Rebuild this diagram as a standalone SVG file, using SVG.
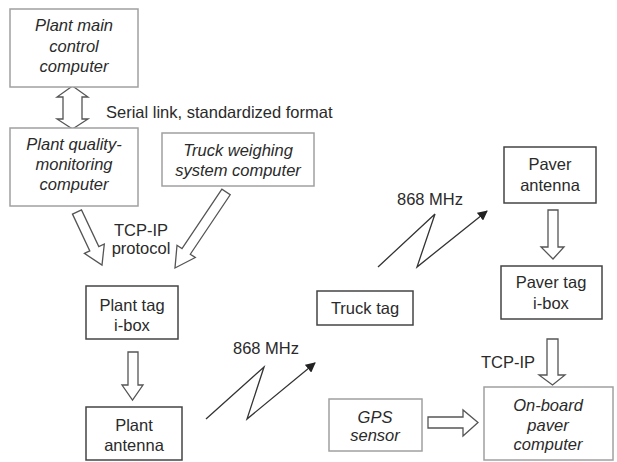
<svg xmlns="http://www.w3.org/2000/svg" width="617" height="462" viewBox="0 0 617 462">
<style>
.t{font-family:"Liberation Sans",Arial,sans-serif;font-size:16.5px;fill:#2a2a2a;text-anchor:middle}
.i{font-style:italic}
.g{fill:#fff;stroke:#a0a0a0;stroke-width:1.5}
.k{fill:#fff;stroke:#444;stroke-width:1.5}
.ha{fill:#fff;stroke:#555;stroke-width:1.3;stroke-linejoin:miter}
.z{fill:none;stroke:#333;stroke-width:1.3}
</style>
<defs>
<marker id="ah" viewBox="0 0 10 10" refX="9" refY="5" markerWidth="10" markerHeight="10" markerUnits="userSpaceOnUse" orient="auto">
<path d="M0,0 L10,5 L0,10 z" fill="#222"/>
</marker>
</defs>
<rect width="617" height="462" fill="#fff"/>
<g id="connectors">
<polygon class="ha" points="72.5,86 88,97 82,97 82,119 88,119 72.5,129 57,119 63,119 63,97 57,97"/>
<polygon class="ha" points="72.5,214.1 89.8,250.9 84.4,253.4 102,265 104.3,244 98.8,246.6 81.5,209.9"/>
<polygon class="ha" points="221.9,189.2 182,248.6 177,245.3 175,268 195.3,257.5 190.3,254.2 230.2,194.8"/>
<polygon class="ha" points="128,352 138,352 138,385 143,385 132.5,400 122,385 128,385"/>
<polyline class="z" points="206,419 264,367 247,419 315,363" marker-end="url(#ah)"/>
<polyline class="z" points="378,267 435,214 417,267 487,211" marker-end="url(#ah)"/>
<polygon class="ha" points="548,210 558,210 558,247 564,247 553,259 541,247 548,247"/>
<polygon class="ha" points="547,339 558,339 558,375 565,375 552.5,385 539,375 547,375"/>
<polygon class="ha" points="428,417 463,417 463,410 478,422.5 463,436 463,428 428,428"/>
<text class="t" x="106" y="118" style="text-anchor:start">Serial link, standardized format</text>
<text class="t" x="141" y="236">TCP-IP</text>
<text class="t" x="141" y="254">protocol</text>
<text class="t" x="266" y="354">868 MHz</text>
<text class="t" x="430" y="205">868 MHz</text>
<text class="t" x="508" y="368">TCP-IP</text>
</g>
<g id="plant-main">
<rect class="g" x="10" y="9" width="128" height="78"/>
<text class="t i" x="74" y="31">Plant main</text>
<text class="t i" x="74" y="51.5">control</text>
<text class="t i" x="74" y="72">computer</text>
</g>
<g id="plant-quality">
<rect class="g" x="10" y="128" width="128" height="78"/>
<text class="t i" x="74" y="150">Plant quality-</text>
<text class="t i" x="74" y="170">monitoring</text>
<text class="t i" x="74" y="190">computer</text>
</g>
<g id="truck-weighing">
<rect class="g" x="162" y="133" width="152" height="53"/>
<text class="t i" x="238" y="156">Truck weighing</text>
<text class="t i" x="238" y="176">system computer</text>
</g>
<g id="plant-tag">
<rect class="k" x="86" y="286" width="92" height="53"/>
<text class="t" x="132" y="311">Plant tag</text>
<text class="t" x="132" y="331">i-box</text>
</g>
<g id="plant-antenna">
<rect class="k" x="86" y="407" width="96" height="53"/>
<text class="t" x="134" y="431">Plant</text>
<text class="t" x="134" y="451">antenna</text>
</g>
<g id="truck-tag">
<rect class="k" x="317" y="291" width="96" height="34"/>
<text class="t" x="365" y="314">Truck tag</text>
</g>
<g id="paver-antenna">
<rect class="k" x="504" y="147" width="92" height="56"/>
<text class="t" x="550" y="170">Paver</text>
<text class="t" x="550" y="191">antenna</text>
</g>
<g id="paver-tag">
<rect class="k" x="501" y="266" width="101" height="53"/>
<text class="t" x="551" y="288">Paver tag</text>
<text class="t" x="551" y="309">i-box</text>
</g>
<g id="gps">
<rect class="g" x="329" y="399" width="93" height="52"/>
<text class="t i" x="375" y="423">GPS</text>
<text class="t i" x="375" y="441">sensor</text>
</g>
<g id="onboard">
<rect class="g" x="484" y="387" width="129" height="73"/>
<text class="t i" x="548" y="411">On-board</text>
<text class="t i" x="548" y="431">paver</text>
<text class="t i" x="548" y="450">computer</text>
</g>
</svg>
